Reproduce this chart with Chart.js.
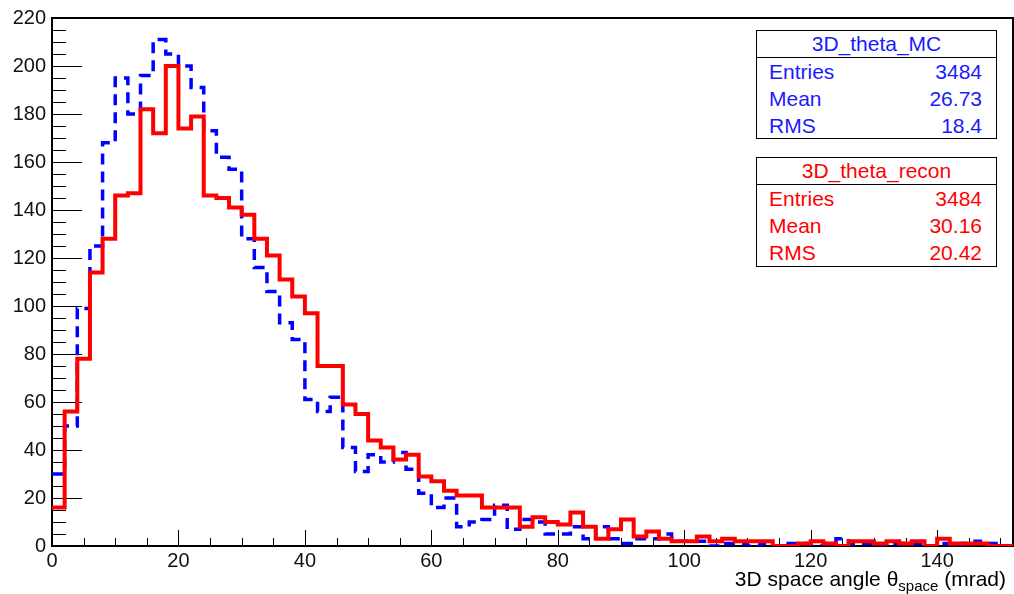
<!DOCTYPE html>
<html>
<head>
<meta charset="utf-8">
<script src="https://cdn.jsdelivr.net/npm/chart.js"></script>
<style>
  body { margin:0; background:#fff; }
  #wrap { position:relative; width:1014px; height:594px; }
  .stats { position:absolute; left:756px; width:241px; border:1.5px solid #000; background:#fff; box-sizing:border-box;
           font-family:"Liberation Sans", Arial, sans-serif; font-size:21px; }
  .stats .title { text-align:center; height:26px; line-height:26px; border-bottom:1.5px solid #000; }
  .stats .row { display:flex; justify-content:space-between; padding:0 14px 0 12px; height:27px; line-height:28px; }
</style>
</head>
<body>
<div id="wrap">
  <canvas id="histo" width="1014" height="594"></canvas>
  <div class="stats" id="statsMC" style="top:30px;height:109px;color:#1a1aff"></div>
  <div class="stats" id="statsRecon" style="top:157px;height:110px;color:#ff0000"></div>
</div>
<script>
// histogram: 76 bins of 2 mrad, 0..152
const binWidth = 2;
const xMax = 152;
const mcCounts = [30,50,99,125,168,195,180,196,211,205,200,191,173,162,157,128,116,106,93,86,
  61,56,62,41,31,38,35,39,32,22,16,20,8,10,11,17,7,11,10,5,
  5,8,3,8,3,1,3,3,5,2,2,2,0,1,1,0,1,0,1,1,
  0,1,3,1,1,0,1,1,1,0,1,0,1,2,1,0];
const reconCounts = [16,56,78,114,128,146,147,182,172,200,174,179,146,145,141,138,128,121,111,104,
  97,75,75,59,55,44,41,36,38,29,27,23,21,21,16,16,16,8,12,10,
  9,14,8,3,7,11,4,6,3,2,2,4,2,3,2,2,2,0,0,1,
  2,1,0,2,2,1,2,1,2,0,3,1,1,1,0,0];
const xTicks = [0,20,40,60,80,100,120,140];
const yTicks = [0,20,40,60,80,100,120,140,160,180,200,220];
const statLabels = ["Entries","Mean","RMS"];
const mcStats = ["3484","26.73","18.4"];
const reconStats = ["3484","30.16","20.42"];

document.addEventListener("DOMContentLoaded", function () {
  function fillStats(id, title, vals) {
    const box = document.getElementById(id);
    let html = `<div class="title">${title}</div>`;
    statLabels.forEach((l,i)=>{ html += `<div class="row"><span>${l}</span><span>${vals[i]}</span></div>`; });
    box.innerHTML = html;
  }
  fillStats("statsMC","3D_theta_MC",mcStats);
  fillStats("statsRecon","3D_theta_recon",reconStats);

  // bin left edges + closing point at the last right edge
  function toSteps(counts) {
    const pts = counts.map((c,i)=>({x:i*binWidth, y:c}));
    pts.push({x:counts.length*binWidth, y:counts[counts.length-1]});
    return pts;
  }

  const font = "'Liberation Sans', Arial, sans-serif";

  const rootFrame = {
    id: "rootFrame",
    beforeDatasetsDraw(chart) {
      const {ctx, chartArea:a, scales:{x, y}} = chart;
      ctx.save();
      ctx.strokeStyle = "#000";
      ctx.lineWidth = 1;
      ctx.beginPath();
      for (let v=0; v<=220; v+=5) {
        const py = Math.round(y.getPixelForValue(v)) + 0.5;
        ctx.moveTo(a.left, py); ctx.lineTo(a.left + (v%20===0 ? 30 : 14), py);
      }
      for (let v=0; v<=150; v+=5) {
        const px = Math.round(x.getPixelForValue(v)) + 0.5;
        ctx.moveTo(px, a.bottom); ctx.lineTo(px, a.bottom - (v%20===0 ? 16 : 8));
      }
      ctx.stroke();
      ctx.lineWidth = 2;
      ctx.strokeRect(a.left, a.top, a.right - a.left, a.bottom - a.top);
      ctx.restore();
    },
    afterDraw(chart) {
      const ctx = chart.ctx;
      ctx.save();
      ctx.fillStyle = "#000";
      ctx.textBaseline = "alphabetic";
      const p1 = "3D space angle \u03b8", sub = "space", p2 = " (mrad)";
      ctx.font = "21px " + font;
      const w1 = ctx.measureText(p1).width, w3 = ctx.measureText(p2).width;
      ctx.font = "15px " + font;
      const w2 = ctx.measureText(sub).width;
      let xx = 1006 - (w1 + w2 + w3), base = 586;
      ctx.font = "21px " + font; ctx.fillText(p1, xx, base); xx += w1;
      ctx.font = "15px " + font; ctx.fillText(sub, xx, base + 5); xx += w2;
      ctx.font = "21px " + font; ctx.fillText(p2, xx, base);
      ctx.restore();
    }
  };

  new Chart(document.getElementById("histo"), {
    type: "line",
    data: {
      datasets: [
        { label:"3D_theta_recon", data:toSteps(reconCounts), stepped:true, borderColor:"#ff0000", borderWidth:4,
          pointRadius:0, fill:false, order:0 },
        { label:"3D_theta_MC", data:toSteps(mcCounts), stepped:true, borderColor:"#0000ff", borderWidth:3.5,
          borderDash:[11,7], pointRadius:0, fill:false, order:1 }
      ]
    },
    options: {
      responsive:false, animation:false,
      layout:{ padding:{ top:14, right:1, left:0, bottom:0 } },
      plugins:{ legend:{display:false}, tooltip:{enabled:false} },
      scales:{
        x:{ type:"linear", min:0, max:xMax,
            afterBuildTicks:s=>{ s.ticks = xTicks.map(v=>({value:v})); },
            afterFit:s=>{ s.height = 48; },
            grid:{display:false, drawTicks:false}, border:{display:false},
            ticks:{ padding:3, color:"#111", font:{family:font, size:20}, maxRotation:0 } },
        y:{ min:0, max:220,
            afterBuildTicks:s=>{ s.ticks = yTicks.map(v=>({value:v})); },
            afterFit:s=>{ s.width = 52; },
            grid:{display:false, drawTicks:false}, border:{display:false},
            ticks:{ padding:6, color:"#111", font:{family:font, size:20} } }
      }
    },
    plugins:[rootFrame]
  });
});
</script>
</body>
</html>
